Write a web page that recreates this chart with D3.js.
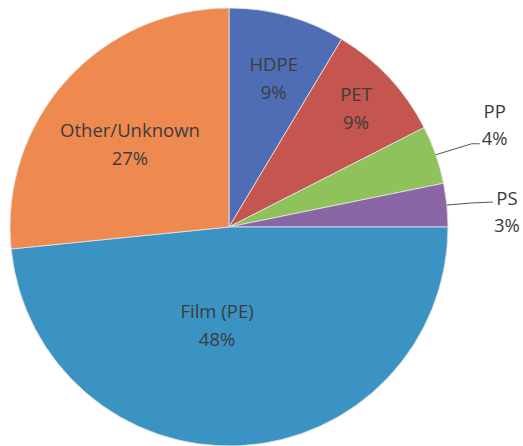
<!DOCTYPE html>
<html>
<head>
<meta charset="utf-8">
<script src="https://cdn.jsdelivr.net/npm/d3@7"></script>
<style>
  body { margin: 0; background: #fff; }
  svg text { font-family: "Open Sans", sans-serif; font-size: 18.5px; fill: #3c3c3c; }
</style>
</head>
<body>
<svg width="523" height="446"></svg>
<script>
const categories = ["HDPE", "PET", "PP", "PS", "Film (PE)", "Other/Unknown"];
const shares = [8.6, 8.9, 4.3, 3.2, 48.4, 26.6];
const percentLabels = ["9%", "9%", "4%", "3%", "48%", "27%"];
const colours = ["#4e6db5", "#c4554f", "#8fc25a", "#8a66a5", "#3a93c3", "#ee8a50"];

const cx = 229, cy = 227, R = 219;
const svg = d3.select("svg");
const g = svg.append("g").attr("transform", `translate(${cx},${cy})`);

const color = d3.scaleOrdinal().domain(categories).range(colours);
const pie = d3.pie().sort(null).value(d => d.v);
const arcs = pie(categories.map((c, i) => ({ name: c, v: shares[i], pct: percentLabels[i] })));
const arc = d3.arc().innerRadius(0).outerRadius(R);

g.selectAll("path")
  .data(arcs)
  .enter()
  .append("path")
  .attr("d", arc)
  .attr("fill", d => color(d.data.name))
  .attr("stroke", "#e6e6e6")
  .attr("stroke-width", 0.8);

// label placement: radius fraction, angle nudge (deg); others go outside
const inside = {
  "HDPE": [0.72, 1],
  "PET": [0.80, -0.5],
  "Film (PE)": [0.44, 10],
  "Other/Unknown": [0.595, -1.6]
};
const outside = {
  "PP": { elbow: [36, -11], end: [44, -11], text: [59, -37] },
  "PS": { elbow: [24, -2], end: [46, -3], text: [60, 0] }
};

const polar = (r, a) => [r * Math.sin(a), -r * Math.cos(a)];

arcs.forEach(d => {
  const mid = (d.startAngle + d.endAngle) / 2;
  const name = d.data.name;
  if (inside[name]) {
    const [f, nudge] = inside[name];
    const [x, y] = polar(R * f, mid + nudge * Math.PI / 180);
    const t = g.append("text").attr("text-anchor", "middle");
    t.append("tspan").attr("x", x).attr("y", y - 5).text(name);
    t.append("tspan").attr("x", x).attr("y", y + 23).text(d.data.pct);
  } else {
    const o = outside[name];
    const [ax, ay] = polar(R, mid);
    g.append("polyline")
      .attr("points", [[ax, ay], [ax + o.elbow[0], ay + o.elbow[1]], [ax + o.end[0], ay + o.end[1]]].join(" "))
      .attr("fill", "none")
      .attr("stroke", "#555")
      .attr("stroke-width", 1);
    const x = ax + o.text[0], y = ay + o.text[1];
    const t = g.append("text").attr("text-anchor", "middle");
    t.append("tspan").attr("x", x).attr("y", y).text(name);
    t.append("tspan").attr("x", x).attr("y", y + 27).text(d.data.pct);
  }
});
</script>
</body>
</html>
